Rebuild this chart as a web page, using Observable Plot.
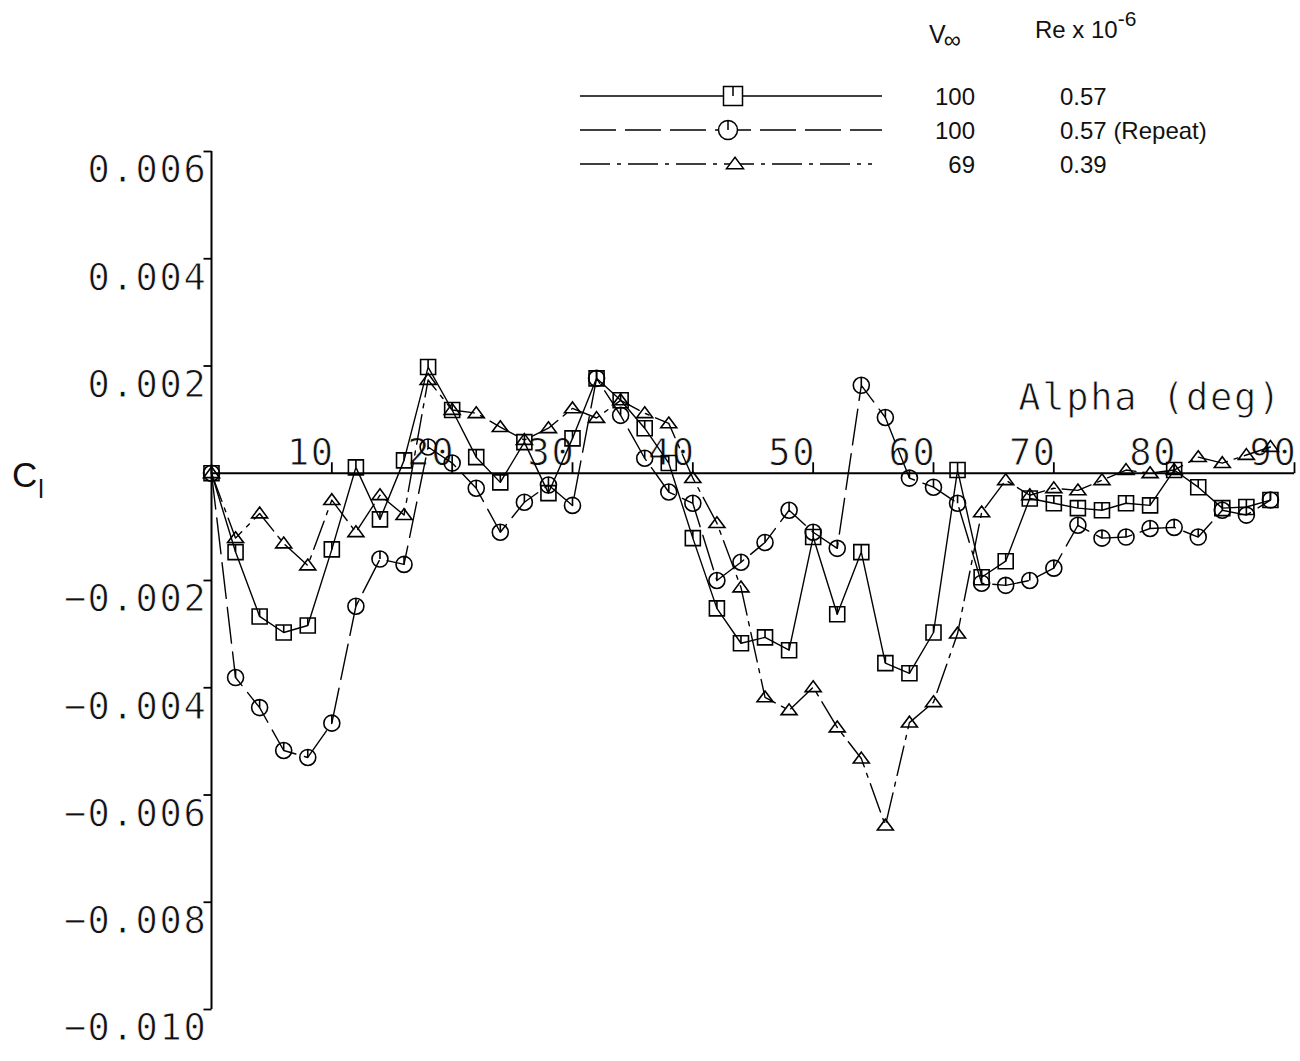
<!DOCTYPE html>
<html><head><meta charset="utf-8">
<script src="https://cdn.jsdelivr.net/npm/d3@7"></script>
<script src="https://cdn.jsdelivr.net/npm/@observablehq/plot@0.6"></script>
<style>
body{margin:0;background:#fff;}
#wrap{position:relative;width:1300px;height:1061px;}
#wrap svg{position:absolute;left:0;top:0;overflow:visible;}
</style></head><body><div id="wrap"></div>
<script>
// ---- data ----
const alpha = [0,2,4,6,8,10,12,14,16,18,20,22,24,26,28,30,32,34,36,38,40,42,44,46,48,50,52,54,56,58,60,62,64,66,68,70,72,74,76,78,80,82,84,86,88];
const clSquare = [0,-0.00147,-0.00267,-0.00297,-0.00284,-0.00142,0.00011,-0.00086,0.00024,0.00198,0.00118,0.00030,-0.00017,0.00058,-0.00037,0.00065,0.00177,0.00136,0.00084,0.00019,-0.00121,-0.00252,-0.00317,-0.00306,-0.00330,-0.00119,-0.00263,-0.00147,-0.00354,-0.00373,-0.00297,0.00006,-0.00194,-0.00164,-0.00047,-0.00056,-0.00065,-0.00069,-0.00056,-0.00060,0.00006,-0.00026,-0.00065,-0.00063,-0.00050];
const clCircle = [0,-0.00381,-0.00437,-0.00517,-0.00530,-0.00466,-0.00248,-0.00160,-0.00170,0.00049,0.00019,-0.00028,-0.00110,-0.00054,-0.00022,-0.00060,0.00177,0.00108,0.00028,-0.00035,-0.00056,-0.00200,-0.00166,-0.00129,-0.00069,-0.00110,-0.00140,0.00164,0.00104,-0.00009,-0.00026,-0.00056,-0.00205,-0.00209,-0.00200,-0.00177,-0.00097,-0.00121,-0.00119,-0.00103,-0.00101,-0.00119,-0.00069,-0.00078,-0.00050];
const clTriangle = [0,-0.00121,-0.00075,-0.00131,-0.00172,-0.00050,-0.00110,-0.00041,-0.00078,0.00174,0.00118,0.00112,0.00086,0.00062,0.00084,0.00121,0.00103,0.00136,0.00112,0.00093,-0.00009,-0.00093,-0.00213,-0.00418,-0.00442,-0.00399,-0.00474,-0.00532,-0.00657,-0.00465,-0.00427,-0.00299,-0.00073,-0.00013,-0.00041,-0.00028,-0.00032,-0.00013,0.00006,0,0.00006,0.00030,0.00019,0.00034,0.00049];
const yTicks = [0.006,0.004,0.002,-0.002,-0.004,-0.006,-0.008,-0.010];
const yTickLabels = ["0.006","0.004","0.002","\u22120.002","\u22120.004","\u22120.006","\u22120.008","\u22120.010"];
const xTicks = [10,20,30,40,50,60,70,80,90];
const xTickLabels = ["10","20","30","40","50","60","70","80","90"];
const legendV = ["100","100","69"];
const legendRe = ["0.57","0.57 (Repeat)","0.39"];

// ---- symbols ----
const sqSym = {draw(c, size){const r=Math.sqrt(size/Math.PI); c.moveTo(-r,-r); c.lineTo(r,-r); c.lineTo(r,r); c.lineTo(-r,r); c.closePath(); c.moveTo(0,-r); c.lineTo(0,0);}};
const ciSym = {draw(c, size){const r=Math.sqrt(size/Math.PI); c.moveTo(r,0); c.arc(0,0,r,0,2*Math.PI); c.moveTo(0,-r); c.lineTo(0,0);}};
const trSym = {draw(c, size){const r=Math.sqrt(size/Math.PI); c.moveTo(0,-r*0.8); c.lineTo(r,r*0.55); c.lineTo(-r,r*0.55); c.closePath();}};
const xTickSym = {draw(c){c.moveTo(0,0); c.lineTo(0,-11);}};
const yTickSym = {draw(c){c.moveTo(0,0); c.lineTo(-8,0);}};

const mono = "DejaVu Sans Mono, monospace";
const sq = alpha.map((a,i)=>({a, v: clSquare[i]}));
const ci = alpha.map((a,i)=>({a, v: clCircle[i]}));
const tr = alpha.map((a,i)=>({a, v: clTriangle[i]}));
const yt = yTicks.map((v,i)=>({v, t: yTickLabels[i]}));
const xt = xTicks.map((v,i)=>({v, t: xTickLabels[i]}));

const chart = Plot.plot({
  width: 1300, height: 1061,
  marginLeft: 211, marginRight: 6, marginTop: 151, marginBottom: 52,
  x: {domain: [0, 90], axis: null},
  y: {domain: [-0.010, 0.006], axis: null},
  style: {background: "white", overflow: "visible"},
  marks: [
    Plot.ruleX([0], {y1: -0.010, y2: 0.006, stroke: "black", strokeWidth: 2}),
    Plot.ruleY([0], {x1: 0, x2: 90, stroke: "black", strokeWidth: 2}),
    Plot.dot(yt, {x: 0, y: "v", symbol: yTickSym, stroke: "black", strokeWidth: 1.8, fill: "none"}),
    Plot.text(yt, {x: 0, y: "v", text: "t", textAnchor: "end", dx: -4, dy: 19, fontFamily: mono, fontSize: 37, fill: "#111"}),
    Plot.dot(xt, {x: "v", y: 0, symbol: xTickSym, stroke: "black", strokeWidth: 1.8, fill: "none"}),
    Plot.text(xt, {x: "v", y: 0, text: "t", textAnchor: "end", dx: 3, dy: -20, fontFamily: mono, fontSize: 37, fill: "#111"}),
    Plot.line(sq, {x: "a", y: "v", stroke: "black", strokeWidth: 1.4}),
    Plot.line(ci, {x: "a", y: "v", stroke: "black", strokeWidth: 1.4, strokeDasharray: "36,9"}),
    Plot.line(tr, {x: "a", y: "v", stroke: "black", strokeWidth: 1.4, strokeDasharray: "30,7,4,7"}),
    Plot.dot(sq, {x: "a", y: "v", symbol: sqSym, r: 7.5, stroke: "black", strokeWidth: 1.6, fill: "none"}),
    Plot.dot(ci, {x: "a", y: "v", symbol: ciSym, r: 8, stroke: "black", strokeWidth: 1.6, fill: "none"}),
    Plot.dot(tr, {x: "a", y: "v", symbol: trSym, r: 8, stroke: "black", strokeWidth: 1.6, fill: "none"})
  ]
});
// thin the monospaced glyphs to look like the plotter stroke font
d3.select(chart).selectAll("text")
  .attr("letter-spacing", "1.7px")
  .attr("stroke", "white").attr("stroke-width", 0.8).attr("paint-order", "normal");
document.getElementById("wrap").appendChild(chart);

// ---- overlay: axis titles and legend ----
const ov = d3.select("#wrap").append("svg").attr("width", 1300).attr("height", 1061).style("pointer-events","none");
const sans = "Liberation Sans, Arial, sans-serif";
const cl = ov.append("text").attr("x", 12).attr("y", 487).attr("font-family", sans).attr("font-size", 35).attr("fill","#111");
cl.append("tspan").text("C");
cl.append("tspan").attr("font-size", 25).attr("dx", 1).attr("dy", 11).text("l");
ov.append("text").attr("x", 1282).attr("y", 410).attr("text-anchor", "end").attr("font-family", mono).attr("font-size", 37)
  .attr("letter-spacing","1.7px").attr("fill","#111").attr("stroke","white").attr("stroke-width",0.8).attr("paint-order","normal").text("Alpha (deg)");

const lg = ov.append("g").attr("font-family", sans).attr("fill", "#111");
const hv = lg.append("text").attr("x", 929).attr("y", 43).attr("font-size", 25);
hv.append("tspan").text("V");
hv.append("tspan").attr("font-size", 24).attr("dx", -2).attr("dy", 5).text("\u221e");
const hr = lg.append("text").attr("x", 1035).attr("y", 38).attr("font-size", 24);
hr.append("tspan").text("Re x 10");
hr.append("tspan").attr("font-size", 21).attr("dy", -12).text("-6");
const rowsY = [96, 130, 164];
const dashes = [null, "36,9", "30,7,4,7"];
const lineEnd = [882, 882, 872];
const markX = [733, 728, 735];
const syms = [sqSym, ciSym, trSym];
const sizes = [9.5, 9.5, 8.5];
rowsY.forEach((y, i) => {
  const l = lg.append("line").attr("x1", 580).attr("x2", lineEnd[i]).attr("y1", y).attr("y2", y).attr("stroke", "black").attr("stroke-width", 1.4);
  if (dashes[i]) l.attr("stroke-dasharray", dashes[i]);
  lg.append("path").attr("transform", `translate(${markX[i]},${y})`).attr("d", d3.symbol(syms[i], Math.PI*sizes[i]*sizes[i])()).attr("fill", "white").attr("stroke", "black").attr("stroke-width", 1.5);
  lg.append("text").attr("x", 975).attr("y", y + 9).attr("text-anchor", "end").attr("font-size", 24).text(legendV[i]);
  lg.append("text").attr("x", 1060).attr("y", y + 9).attr("font-size", 24).text(legendRe[i]);
});
</script></body></html>
